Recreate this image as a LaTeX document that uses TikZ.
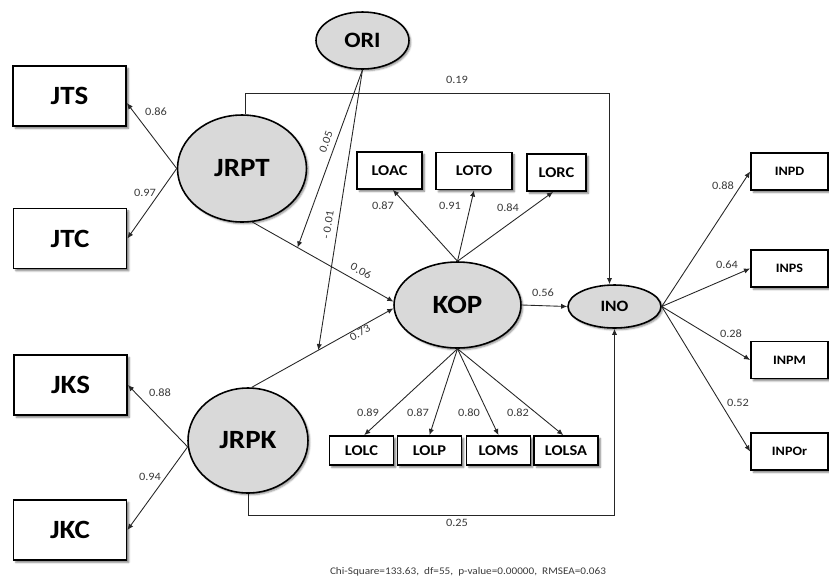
\documentclass[tikz,border=0pt]{standalone}
\usepackage{fontspec}
\setmainfont{Carlito}[FakeStretch=1.1]
\usetikzlibrary{shapes.geometric,arrows.meta,shadows.blur}

\definecolor{latentgray}{HTML}{D9D9D9}
\definecolor{coefgray}{HTML}{3A3A3A}

\begin{document}
\begin{tikzpicture}[x=0.02cm,y=-0.02cm,
        latent/.style={ellipse,draw=black,line width=0.9pt,fill=latentgray,inner sep=0pt,
            blur shadow={shadow xshift=1pt,shadow yshift=-1pt,shadow blur radius=1pt,shadow opacity=45},
            font=\bfseries\fontsize{15}{15}\selectfont},
        bigbox/.style={rectangle,draw=black,line width=1pt,fill=white,inner sep=0pt,
            minimum width=2.26cm,minimum height=1.2cm,
            blur shadow={shadow xshift=1.3pt,shadow yshift=-1.3pt,shadow blur radius=1pt,shadow opacity=50},
            font=\bfseries\fontsize{15}{15}\selectfont},
        smallbox/.style={bigbox,font=\bfseries\fontsize{8.5}{9}\selectfont},
        inbox/.style={bigbox,minimum width=1.54cm,minimum height=0.74cm,
            font=\bfseries\fontsize{7.3}{8}\selectfont},
        link/.style={draw=black!85,line width=0.5pt,-{Latex[length=3.5pt,width=3pt]}},
        coef/.style={font=\fontsize{6.4}{7}\selectfont,text=coefgray,inner sep=0pt}]
    \useasboundingbox (0,0) rectangle (829,579);

    % first order indicators
    \foreach \n/\x/\y in {JTS/69.5/96, JTC/70/238.5, JKS/70.5/385, JKC/70/530}
        \node[bigbox] (\n) at (\x,\y) {\n};

    % latent variables
    \node[latent,minimum width=2.58cm,minimum height=2.14cm] (JRPT) at (242,168.5) {JRPT};
    \node[latent,minimum width=2.4cm,minimum height=2.1cm] (JRPK) at (248,440.5) {JRPK};
    \node[latent,minimum width=2.54cm,minimum height=1.72cm] (KOP) at (457.5,305) {KOP};
    \node[latent,minimum width=1.86cm,minimum height=1.14cm,
        font=\bfseries\fontsize{12.5}{13}\selectfont] (ORI) at (362.5,40.5) {ORI};
    \node[latent,minimum width=1.86cm,minimum height=0.86cm,
        font=\bfseries\fontsize{9}{9}\selectfont] (INO) at (614.5,306.5) {INO};

    % KOP indicators
    \foreach \n/\x/\y/\w in {LOAC/389.5/170.5/1.3, LOTO/474/171/1.52, LORC/556.5/172.5/1.18}
        \node[smallbox,minimum width=\w cm,minimum height=0.74cm] (\n) at (\x,\y) {\n};
    \foreach \n/\x in {LOLC/361.5, LOLP/429.5, LOMS/498.5, LOLSA/566}
        \node[smallbox,minimum width=1.28cm,minimum height=0.58cm] (\n) at (\x,450.5) {\n};

    % INO indicators
    \foreach \n/\y in {INPD/171.5, INPS/268.5, INPM/360, INPOr/451.5}
        \node[inbox] (\n) at (789.5,\y) {\n};

    % loadings
    \draw[link] (JRPT.west) -- (JTS.-7);
    \draw[link] (JRPT.west) -- (JTC.east);
    \draw[link] (JRPK.186) -- (JKS.east);
    \draw[link] (JRPK.186) -- (JKC.east);
    \foreach \t/\a in {LOAC/-80, LOTO/south, LORC/-100}
        \draw[link] (KOP.north) -- (\t.\a);
    \foreach \t/\a in {LOLC/80, LOLP/north, LOMS/north, LOLSA/100}
        \draw[link] (KOP.south) -- (\t.\a);
    \foreach \t in {INPD, INPS, INPM, INPOr}
        \draw[link] (INO.east) -- (\t.west);

    % structural paths, ORI moderates both
    \draw[link] (JRPT.-79) -- (KOP.177) coordinate[pos=0.32] (modT);
    \draw[link] (JRPK.86) -- (KOP.183) coordinate[pos=0.47] (modK);
    \draw[link] (ORI.south) -- (modT);
    \draw[link] (ORI.south) -- (modK);
    \draw[link] (KOP.east) -- (INO.west);
    \draw[link] ([xshift=0.06cm]JRPT.north) -- ++(0,-21) -| ([xshift=-0.1cm]INO.north);
    \draw[link] (JRPK.south) -- ++(0,22) -| (INO.south);

    % coefficients
    \foreach \x/\y/\t [count=\i] in {156/112/0.86, 145/193/0.97, 160/393/0.88, 150/477/0.94,
            457/80/0.19, 383/206/0.87, 450/206/0.91, 508/208/0.84, 543/293/0.56,
            368/413/0.89, 418/413/0.87, 469/413/0.80, 518/413/0.82, 457/523/0.25,
            723/186/0.88, 727/265/0.64, 731/334/0.28, 738/403/0.52}
        \node[coef] (w\i) at (\x,\y) {\t};
    \node[coef,rotate=70] (wOT) at (326,142) {0.05};
    \node[coef,rotate=81] (wOK) at (328,225) {- 0.01};
    \node[coef,rotate=-29] (wTK) at (361,271) {0.06};
    \node[coef,rotate=30] (wKK) at (360,333) {0.73};

    \node[coef,font=\fontsize{5.8}{7}\selectfont] (gof) at (468,572)
        {Chi-Square=133.63,\ \ df=55,\ \ p-value=0.00000,\ \ RMSEA=0.063};
\end{tikzpicture}
\end{document}
